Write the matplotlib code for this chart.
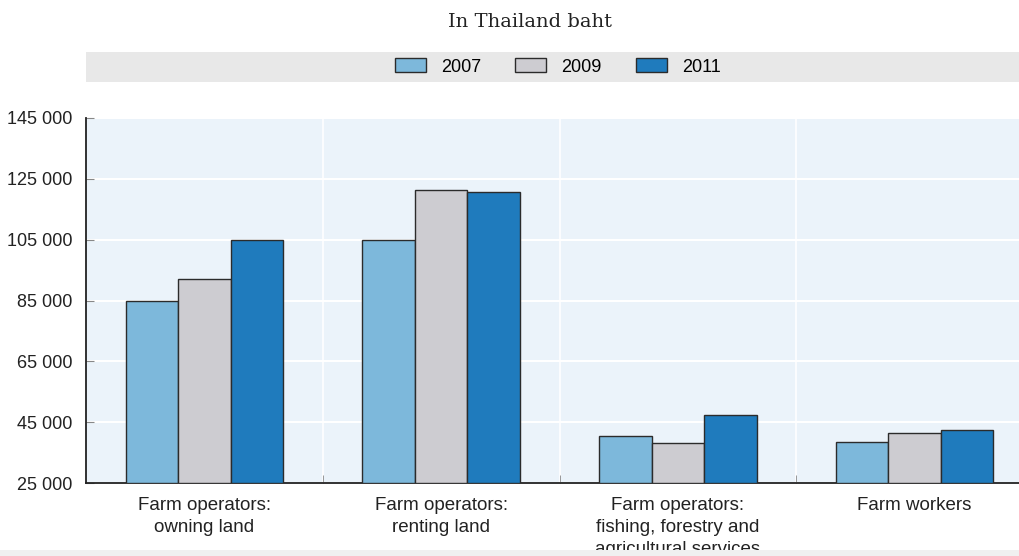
import matplotlib
matplotlib.use("Agg")
import matplotlib.pyplot as plt
from matplotlib.patches import Rectangle
import numpy as np

categories = ["Farm operators:\nowning land", "Farm operators:\nrenting land",
              "Farm operators:\nfishing, forestry and\nagricultural services", "Farm workers"]
years = ["2007", "2009", "2011"]
v2007 = [85000, 105000, 40400, 38400]
v2009 = [92000, 121300, 38100, 41400]
v2011 = [105000, 120700, 47400, 42400]
yticks = [25000, 45000, 65000, 85000, 105000, 125000, 145000]
colors = ["#7db8db", "#cdccd1", "#1f7bbd"]

plt.rcParams['font.family'] = ['Liberation Sans', 'DejaVu Sans']

W, H = 1019, 556
fig = plt.figure(figsize=(W/100, H/100), dpi=100)
ax = fig.add_axes([86/W, 1-483/H, (1019-86)/W, (483-118)/H])
ax.set_facecolor("#ebf3fa")

group_w = (1033-86)/4
x = np.arange(len(categories))
bw = 0.222
series = [v2007, v2009, v2011]
for i, (vals, c, lab) in enumerate(zip(series, colors, years)):
    ax.bar(x + (i-1)*bw, np.array(vals)-25000, bw, bottom=25000, color=c,
           edgecolor="#2b2b2b", linewidth=1.0, label=lab, zorder=3)

ax.set_ylim(25000, 145000)
ax.set_xlim(-0.5, -0.5 + (1019-86)/group_w)
ax.set_yticks(yticks)
ax.set_yticklabels([f"{v:,}".replace(",", " ") for v in yticks], fontsize=13, color="#222")
ax.tick_params(axis='y', direction='in', length=6, color="#888", pad=10)
ax.set_xticks(x)
ax.set_xticklabels(categories, fontsize=13.5, color="#222", linespacing=1.4)
ax.tick_params(axis='x', length=0, pad=10)
ax.set_xticks([0.5, 1.5, 2.5], minor=True)
ax.tick_params(axis='x', which='minor', direction='in', length=6, color="#888")
ax.grid(axis='y', color='white', linewidth=1.5, zorder=0)
for b in [0.5, 1.5, 2.5]:
    ax.axvline(b, color='white', linewidth=1.2, zorder=0)
for s in ['top', 'right']:
    ax.spines[s].set_visible(False)
for s in ['left', 'bottom']:
    ax.spines[s].set_color("#222")
    ax.spines[s].set_linewidth(1.3)
ax.set_axisbelow(True)

fig.text(530/W, 1-22/H, "In Thailand baht", ha='center', va='center',
         fontsize=14, family='DejaVu Serif', color="#222")
fig.patches.append(Rectangle((86/W, 1-82/H), (1019-86)/W, 30/H, transform=fig.transFigure,
                             facecolor="#e8e8e8", edgecolor='none', zorder=0))
fig.patches.append(Rectangle((0, 0), 1, 6/H, transform=fig.transFigure,
                             facecolor="#f0f0f0", edgecolor='none', zorder=0))
h, l = ax.get_legend_handles_labels()
fig.legend(h, l, loc='center', bbox_to_anchor=(558/W, 1-67/H), ncol=3, frameon=False,
           fontsize=13, handlelength=1.7, handleheight=0.8, columnspacing=1.9, handletextpad=0.85)

fig.savefig("out.png", dpi=100)
